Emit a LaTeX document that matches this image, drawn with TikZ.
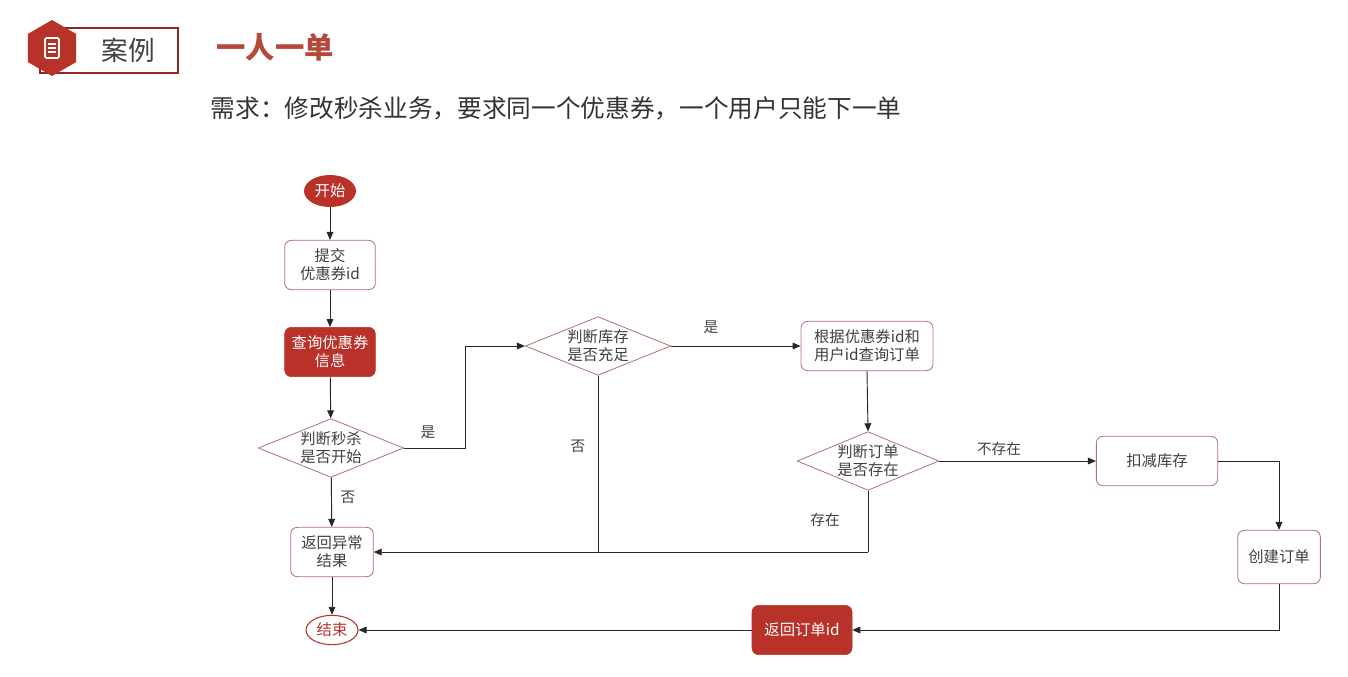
\documentclass[tikz,border=0pt]{standalone}
\usepackage{fontspec}
\setmainfont{Noto Sans CJK SC}
\usetikzlibrary{shapes.geometric,arrows.meta}
\definecolor{myred}{HTML}{B8322A}
\definecolor{mytitle}{HTML}{B5483A}
\definecolor{myedge}{HTML}{B07070}
\tikzset{
  every node/.style={font=\fontsize{11.5}{13.5}\selectfont, text=black!75},
  pbox/.style={draw=myedge, rounded corners=5pt, fill=white, align=center, line width=0.6pt},
  fbox/.style={draw=myred, fill=myred, rounded corners=5pt, align=center, text=white},
  dia/.style={draw=myedge, diamond, aspect=2.5, align=center, line width=0.6pt, inner sep=0pt},
  conn/.style={draw=black!85, line width=0.7pt, -{Triangle[length=6pt,width=5pt]}},
  lbl/.style={font=\fontsize{11}{13}\selectfont, text=black!75}
}
\begin{document}
\begin{tikzpicture}[x=0.75pt,y=-0.75pt]
\useasboundingbox (0,0) rectangle (1348,676);
% header
\draw[myred!80!black, line width=1.2pt] (40,28) rectangle (178,73);
\fill[myred] (52,48) +(90:28) -- +(30:28) -- +(-30:28) -- +(-90:28) -- +(-150:28) -- +(150:28) -- cycle;
\draw[white, line width=1.3pt, rounded corners=1pt] (45,38) rectangle (59,58);
\draw[white, line width=1pt] (48,44)--(56,44) (48,48)--(56,48) (48,52)--(56,52);
\node[text=black!75, font=\fontsize{20}{22}\selectfont] (hd) at (128,50) {案例};
\node[text=mytitle, font=\fontsize{22}{24}\selectfont\bfseries] (ttl) at (275,47) {一人一单};
\node[anchor=west, text=black!80, font=\fontsize{18.5}{20}\selectfont] (req) at (206,108) {需求：修改秒杀业务，要求同一个优惠券，一个用户只能下一单};
% nodes
\node[ellipse, fill=myred, text=white, minimum width=39pt, minimum height=24pt, inner sep=0pt] (start) at (330,191) {开始};
\node[pbox, minimum width=68pt, minimum height=37pt] (submit) at (330,265) {提交\\优惠券id};
\node[fbox, minimum width=68pt, minimum height=37pt] (query) at (330,352) {查询优惠券\\信息};
\node[dia, minimum width=109pt, minimum height=44pt] (d1) at (331,448) {判断秒杀\\是否开始};
\node[pbox, minimum width=62pt, minimum height=37pt] (err) at (332,552) {返回异常\\结果};
\node[ellipse, draw=myred, line width=0.8pt, fill=white, text=myred, minimum width=39pt, minimum height=22pt, inner sep=0pt] (end) at (332,630) {结束};
\node[dia, minimum width=109pt, minimum height=44pt] (d2) at (598,346) {判断库存\\是否充足};
\node[pbox, minimum width=99pt, minimum height=37pt] (find) at (867,346) {根据优惠券id和\\用户id查询订单};
\node[dia, minimum width=105pt, minimum height=44pt] (d3) at (868,461) {判断订单\\是否存在};
\node[pbox, minimum width=91pt, minimum height=37pt] (dec) at (1157,461) {扣减库存};
\node[pbox, minimum width=62pt, minimum height=40pt] (create) at (1279,557) {创建订单};
\node[fbox, minimum width=75pt, minimum height=37pt] (ret) at (802,630) {返回订单id};
\coordinate (j1) at (465,448);
\coordinate (j2) at (465,346);
\coordinate (j3) at (598,552);
\coordinate (j4) at (868,552);
\coordinate (j5) at (1279,461);
\coordinate (j6) at (1279,630);
% edges
\draw[conn] (start) -- (submit);
\draw[conn] (submit) -- (query);
\draw[conn] (query) -- (d1);
\draw[conn] (d1) -- (err);
\draw[conn] (err) -- (end);
\draw[conn] (d1.east) -- (j1) -- (j2) -- (d2.west);
\draw[line width=0.7pt, black!85] (d2.south) -- (j3);
\draw[conn] (j4) -- (err.east);
\draw[line width=0.7pt, black!85] (d3.south) -- (j4);
\draw[conn] (d2.east) -- (find.west);
\draw[conn] (find.south) -- (d3.north);
\draw[conn] (d3.east) -- (dec.west);
\draw[conn] (dec.east) -- (j5) -- (create.north);
\draw[conn] (create.south) -- (j6) -- (ret.east);
\draw[conn] (ret.west) -- (end.east);
% labels
\node[lbl] (l1) at (348,497) {否};
\node[lbl] (l2) at (428,432) {是};
\node[lbl] (l3) at (578,446) {否};
\node[lbl] (l4) at (711,327) {是};
\node[lbl] (l5) at (999,449) {不存在};
\node[lbl] (l6) at (825,520) {存在};
\end{tikzpicture}
\end{document}
